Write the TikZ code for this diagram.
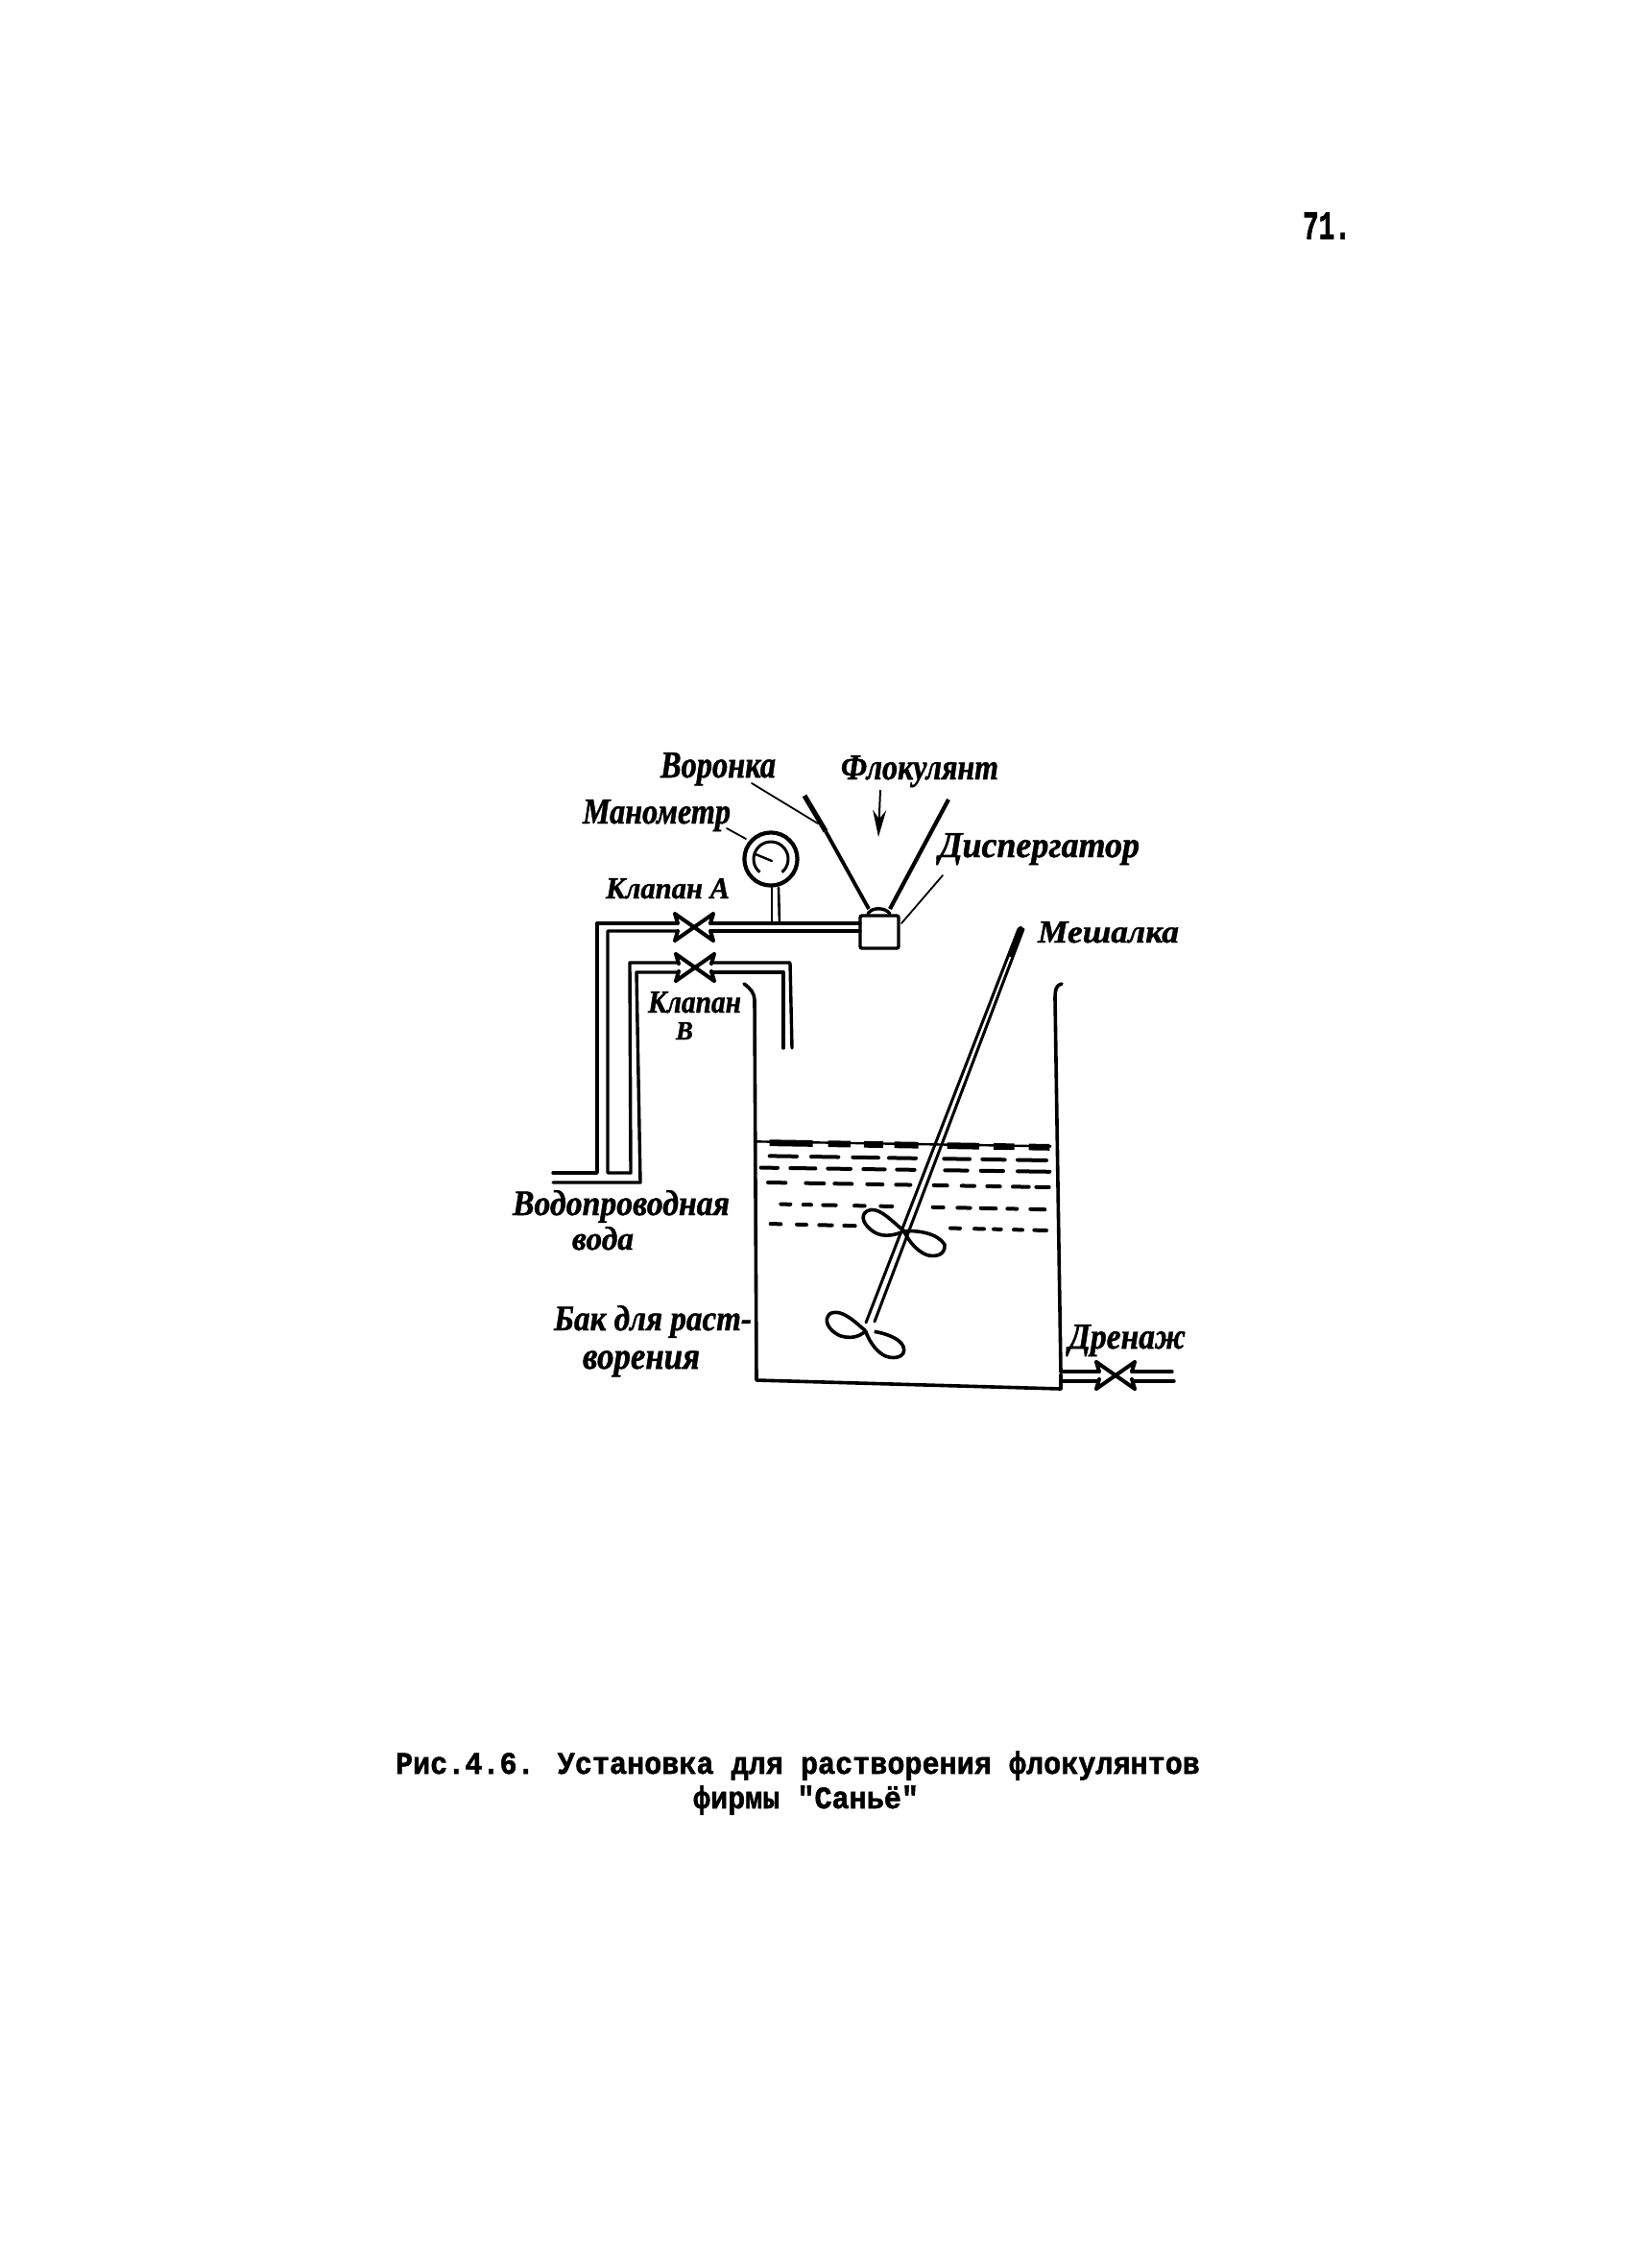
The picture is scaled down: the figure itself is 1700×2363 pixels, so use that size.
\documentclass[tikz,border=0pt]{standalone}
\usepackage{fontspec}
\usepackage{graphicx}
\usetikzlibrary{arrows.meta}
\setmainfont{Liberation Serif}[BoldItalicFeatures={FakeBold=1.2}]
\newfontfamily\typefont{Liberation Mono}[BoldFeatures={FakeBold=1.6}]
\newcommand{\hand}[3]{\resizebox{#1pt}{#2pt}{\bfseries\itshape\vphantom{Б}#3}}
\newcommand{\typed}[2]{\scalebox{1}[1.08]{\resizebox{#1pt}{!}{\typefont\bfseries #2}}}
\tikzset{
  lbl/.style={anchor=base west,inner sep=0pt,outer sep=0pt,text=black},
  pipe/.style={line width=1.7pt,line join=round,line cap=round},
  thinline/.style={line width=0.9pt,line cap=round},
  wall/.style={line width=1.8pt,line join=round,line cap=round},
  shaft/.style={line width=1.5pt,line cap=round},
  lobe/.style={line width=1.8pt,line join=round},
  waterdash/.style={line width=2pt,line cap=round},
  valvesym/.pic={
    \draw[pipe,line width=2pt] (-20,-14)--(20,14) (20,-14)--(-20,14)
      (-20,-14)--(-17,-4) (-17,4)--(-20,14)
      (20,-14)--(17,-4) (17,4)--(20,14);
  }
}
\begin{document}
\begin{tikzpicture}[x=0.5pt,y=-0.5pt]
\useasboundingbox (0,0) rectangle (1700,2363);
\fill[white] (0,0) rectangle (1700,2363);

% page number
\node[lbl] (pageno) at (1357,249) {\scalebox{1}[1.5]{\resizebox{25pt}{!}{\typefont\bfseries 71.}}};

% upper pipe (valve A)
\draw[pipe] (576,1222)--(622,1222)--(622,962)--(704,962);
\draw[pipe] (740,962)--(896,962);
\draw[pipe] (740,970)--(896,970);
\draw[pipe] (706,970)--(633,970)--(633,1222)--(657,1222)--(656,1003)--(706,1003);
\draw[pipe] (576,1232)--(667,1232)--(663,1013)--(706,1013);
\draw[pipe] (741,1003)--(823,1003)--(825,1092);
\draw[pipe] (741,1013)--(816,1013)--(816,1092);
\pic at (723,966) {valvesym};
\pic at (724,1008) {valvesym};

% manometer
\coordinate (gaugec) at (803,895);
\draw[line width=2.1pt] (gaugec) circle[radius=13.8pt];
\draw[line width=1.5pt] ([shift={(-50:9pt)}]gaugec) arc[start angle=-50,end angle=230,radius=9pt];
\draw[thinline,line width=1.2pt] (804,897)--(787,890);
\draw[pipe,line width=1.3pt] (804,925)--(804,962);
\draw[pipe,line width=1.3pt] (811,925)--(812,962);

% disperser and funnel
\node[draw,line width=1.7pt,rounded corners=1pt,minimum width=20pt,minimum height=17pt,inner sep=0pt] (disp) at (916,971) {};
\coordinate (neckl) at (904,952);
\coordinate (neckr) at (927,952);
\draw[pipe] (neckl) .. controls (908,945) and (922,945) .. (neckr);
\coordinate (funltop) at (838,829);
\coordinate (funlmid) at (860,866);
\coordinate (funlbot) at (905,947);
\coordinate (funrtop) at (988,833);
\coordinate (funrbot) at (927,947);
\draw[line width=2.6pt] (funltop)--(funlmid);
\draw[line width=1.9pt] (funlmid)--(funlbot);
\draw[line width=2.1pt] (funrtop)--(funrbot);

% flocculant arrow
\coordinate (arrowa) at (917,823);
\coordinate (arrowb) at (915,872);
\draw[line width=1pt,-{Stealth[length=14pt,width=7pt]}] (arrowa)--(arrowb);

% leaders
\coordinate (ldA) at (783,816);
\coordinate (ldB) at (852,858);
\coordinate (ldC) at (757,863);
\coordinate (ldD) at (777,874);
\coordinate (ldE) at (982,912);
\coordinate (ldF) at (939,962);
\draw[thinline] (ldA)--(ldB);
\draw[thinline] (ldC)--(ldD);
\draw[thinline] (ldE)--(ldF);

% tank
\draw[wall] (775,1025) .. controls (782,1030) and (786,1035) .. (786,1042) -- (788,1438) -- (1105,1447) -- (1105,1432);
\draw[wall] (1106,1025) .. controls (1101,1026) and (1099,1030) .. (1099,1040) -- (1105,1429);

% drain
\draw[pipe] (1105,1429)--(1144,1429);
\draw[pipe] (1180,1429)--(1221,1429);
\draw[pipe] (1105,1439)--(1144,1439);
\draw[pipe] (1180,1439)--(1223,1439);
\pic at (1162,1433) {valvesym};

% shaft
\coordinate (shafta) at (1061,968);
\coordinate (shaftb) at (902,1378);
\coordinate (shaftc) at (1066,968);
\coordinate (shaftd) at (911,1377);
\draw[shaft] (shafta)--(shaftb);
\draw[shaft] (shaftc)--(shaftd);
\draw[line width=3pt,line cap=round] (1063,968)--(1053,994);

% water and impellers, written in the 3x crop grid with origin at (800,1100)
\begin{scope}[shift={(800,1100)},x=0.16667pt,y=-0.16667pt]
\draw[line width=1.2pt] (-40,268)--(885,283);
\foreach \a/\b in {5/140,188/258,300/360,395/470,560/660,705/770,815/880}
  \draw[line width=3.4pt] (\a,{272+0.016*\a})--(\b,{272+0.016*\b});
\foreach \a/\b in {5/90,135/220,265/345,378/462,550/630,670/740,780/870}
  \draw[waterdash] (\a,{313+0.016*\a})--(\b,{313+0.016*\b});
\foreach \a/\b in {-22/30,70/148,187/258,298/365,403/458,553/623,665/735,780/880}
  \draw[waterdash] (\a,{350+0.014*\a})--(\b,{350+0.014*\b});
\foreach \a/\b in {0/55,118/175,208/262,310/358,400/445,518/560,605/645,685/725,765/815,838/878}
  \draw[waterdash] (\a,{396+0.017*\a})--(\b,{396+0.017*\b});
\foreach \a/\b in {40/70,110/135,172/212,270/302,352/388,515/548,592/632,665/712,748/778,820/865}
  \draw[waterdash] (\a,{463+0.02*\a})--(\b,{463+0.02*\b});
\foreach \a/\b in {8/40,90/120,160/200,238/272,570/600,645/675,705/728,768/795,832/870}
  \draw[waterdash] (\a,{525+0.024*\a})--(\b,{525+0.024*\b});
% upper impeller
\fill[white] (425,548) .. controls (370,500) and (340,470) .. (310,485) .. controls (285,500) and (300,530) .. (330,550) .. controls (360,570) and (400,560) .. (425,548);
\draw[lobe] (425,548) .. controls (370,500) and (340,470) .. (310,485) .. controls (285,500) and (300,530) .. (330,550) .. controls (360,570) and (400,560) .. (425,548);
\draw[lobe] (425,548) .. controls (470,545) and (530,555) .. (552,590) .. controls (555,625) and (520,630) .. (495,622) .. controls (465,610) and (440,580) .. (425,548);
% lower impeller
\draw[lobe] (305,860) .. controls (270,830) and (230,790) .. (195,805) .. controls (170,825) and (190,860) .. (225,875) .. controls (255,885) and (285,880) .. (305,860);
\draw[lobe] (332,862) .. controls (380,870) and (425,890) .. (425,920) .. controls (425,945) and (385,950) .. (360,935) .. controls (335,920) and (315,890) .. (305,860);
\end{scope}

% labels
\node[lbl] (voronka) at (688,810) {\hand{60}{13}{Воронка}};
\node[lbl] (flok) at (876,812) {\hand{82}{12.5}{Флокулянт}};
\node[lbl] (manom) at (607,858) {\hand{77}{12.5}{Манометр}};
\node[lbl] (displab) at (978,893) {\hand{104.5}{12.5}{Диспергатор}};
\node[lbl] (klapA) at (631,936) {\hand{64.5}{10.5}{Клапан А}};
\node[lbl] (mesh) at (1081,982) {\hand{73.5}{11}{Мешалка}};
\node[lbl] (klapB) at (675,1055) {\hand{48.5}{11}{Клапан}};
\node[lbl] (klapBb) at (704,1083) {\hand{9}{9}{В}};
\node[lbl] (water1) at (534,1266) {\hand{113}{13}{Водопроводная}};
\node[lbl] (water2) at (596,1302) {\hand{32}{12}{вода}};
\node[lbl] (tank1) at (577,1386) {\hand{103}{13}{Бак для раст-}};
\node[lbl] (tank2) at (607,1426) {\hand{61}{13}{ворения}};
\node[lbl] (drain) at (1113,1405) {\hand{61}{12.5}{Дренаж}};

% caption
\node[lbl] (cap1) at (412,1848) {\typed{419}{Рис.4.6. Установка для растворения флокулянтов}};
\node[lbl] (cap2) at (722,1884) {\typed{117.5}{фирмы "Саньё"}};
\end{tikzpicture}
\end{document}
